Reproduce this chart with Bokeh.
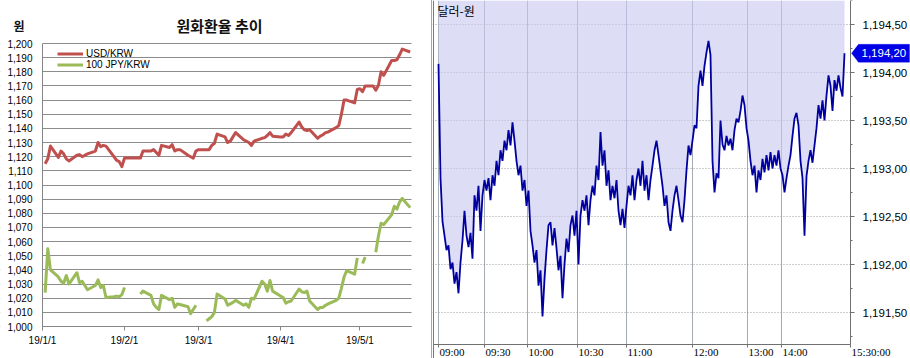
import numpy as np
import pandas as pd
from bokeh.plotting import figure
from bokeh.layouts import row
from bokeh.models import (FixedTicker, Label, LabelSet, ColumnDataSource, PolyAnnotation,
                          BoxAnnotation, Span, Spacer, Range1d, NumeralTickFormatter)
from bokeh.embed import file_html
from bokeh.resources import INLINE

# ---------------- left chart data (daily closes, Korean business days) ----------------
dates = pd.bdate_range("2019-01-02", "2019-05-20")
usd = [
    # Jan
    1115, 1118.5, 1127.5, 1119.5, 1124, 1122, 1118.5, 1117, 1121, 1121.5, 1120,
    1121, 1122, 1124, 1130, 1127, 1128, 1127.5, 1120, 1117.5, 1116.5, 1113,
    # Feb
    1119, 1119, 1119, 1119, 1119, 1124, 1124, 1125, 1123, 1121, 1128, 1126.5,
    1128.5, 1124, 1125, 1125, 1121, 1120, 1119, 1124,
    # Mar
    1125, 1125, 1125, 1128, 1129.5, 1136, 1134, 1130, 1131, 1134, 1137, 1132,
    1131, 1130, 1128, 1131, 1133, 1133.5, 1135, 1137, 1134.5,
    # Apr
    1134, 1134, 1136, 1135, 1137, 1144.5, 1141, 1139, 1138.5, 1139, 1133, 1134.5,
    1135.5, 1137, 1137.5, 1140.5, 1142, 1150, 1160, 1160, 1158, 1167.5,
    # May
    1168, 1166, 1170, 1170, 1167, 1170.5, 1180, 1177.5, 1188, 1188, 1188.5, 1192,
    1196, 1194,
]
jpy = [
    # Jan
    1024, 1055, 1040, 1035, 1032, 1030.5, 1036, 1030, 1038, 1031, 1032,
    1029, 1026, 1029, 1033, 1027.5, 1029, 1020.5, 1021, 1021.5, 1021, 1022.5,
    # Feb
    1027.5, None, None, None, 1023, 1025, 1022, 1016, 1013.5, 1012, 1022, 1019,
    1020, 1013.5, 1016, 1015.5, 1014, 1009, 1012, 1015,
    # Mar
    None, 1004, 1005.5, 1007, 1010, 1023, 1019.5, 1015, 1016, 1017, 1018.5, 1015,
    1016, 1013.5, 1020, 1019.5, 1032, 1030, 1025, 1032.5, 1025,
    # Apr
    1021.5, 1020.5, 1016.5, 1017.5, 1018, 1026.5, 1024.5, 1024, 1025, 1018, 1012,
    1013.5, 1013.5, 1015, 1016, 1018.5, 1020, 1027, 1035, 1039.5, 1037, 1048.5,
    # May
    None, 1044.5, 1049, None, 1052.5, 1064, 1073, 1072, 1079, 1085, 1083, 1088,
    1090.5, 1084,
]
month_ticks = ["2019-01-01", "2019-02-01", "2019-03-01", "2019-04-01", "2019-05-01"]
month_labels = ["19/1/1", "19/2/1", "19/3/1", "19/4/1", "19/5/1"]
krw_ticks = list(range(1000, 1201, 10))

# ---------------- right chart data (intraday USD/KRW, tick sequence) ----------------
intraday = [
    1194.09, 1192.90, 1192.45, 1192.30, 1192.15, 1192.20, 1191.95, 1192.02, 1191.80, 1191.92,
    1191.70, 1192.02, 1192.25, 1192.56, 1192.30, 1192.18, 1192.33, 1192.06, 1192.72, 1192.56,
    1192.82, 1192.35, 1192.72, 1192.88, 1192.77, 1192.90, 1192.67, 1192.93, 1192.82, 1193.08,
    1192.93, 1193.19, 1193.08, 1193.29, 1193.19, 1193.40, 1193.24, 1193.48, 1193.29, 1193.08,
    1192.93, 1193.03, 1192.77, 1192.88, 1192.61, 1192.77, 1192.35, 1192.20, 1192.02, 1192.15,
    1191.78, 1191.94, 1191.46, 1191.85, 1192.15, 1192.41, 1192.44, 1192.20, 1192.38, 1192.17,
    1191.94, 1192.09, 1191.65, 1192.00, 1192.27, 1192.13, 1192.41, 1192.51, 1192.30, 1192.56,
    1192.00, 1192.51, 1192.67, 1192.56, 1192.72, 1192.41, 1192.67, 1192.82, 1192.72, 1193.03,
    1192.88, 1193.38, 1193.03, 1193.19, 1192.82, 1192.98, 1192.67, 1192.82, 1192.69, 1192.88,
    1192.56, 1192.41, 1192.58, 1192.38, 1192.61, 1192.82, 1192.72, 1192.93, 1192.67, 1192.88,
    1193.00, 1192.82, 1193.08, 1192.77, 1192.93, 1192.67, 1192.88, 1193.03, 1193.19, 1193.29,
    1193.14, 1192.98, 1192.82, 1192.61, 1192.72, 1192.44, 1192.35, 1192.56, 1192.72, 1192.82,
    1192.67, 1192.51, 1192.44, 1192.67, 1192.98, 1193.24, 1193.14, 1193.29, 1193.45, 1193.42,
    1193.86, 1194.02, 1193.86, 1194.07, 1194.21, 1194.33, 1194.18, 1193.08, 1192.75, 1192.95,
    1192.90, 1193.50, 1193.25, 1193.19, 1193.34, 1193.24, 1193.31, 1193.19, 1193.40, 1193.52,
    1193.48, 1193.60, 1193.76, 1193.66, 1193.42, 1193.29, 1193.08, 1192.93, 1193.03, 1192.75,
    1192.98, 1192.88, 1193.10, 1192.96, 1193.14, 1192.98, 1193.17, 1193.00, 1193.14, 1193.03,
    1193.19, 1193.00, 1192.93, 1192.75, 1192.90, 1193.03, 1193.14, 1193.34, 1193.52, 1193.58,
    1193.45, 1193.08, 1192.90, 1192.30, 1192.92, 1193.08, 1193.19, 1193.06, 1193.24, 1193.42,
    1193.66, 1193.52, 1193.71, 1193.50, 1193.76, 1193.97, 1193.86, 1193.60, 1193.92, 1193.81,
    1193.97, 1193.84, 1193.75, 1194.20,
]
time_tick_pos = [0, 23, 44.5, 69.5, 94, 127, 154.5, 171.5, 206]
time_tick_labels = ["09:00", "09:30", "10:00", "10:30", "11:00", "12:00", "13:00", "14:00", "15:30:00"]
price_ticks = [1191.5, 1192.0, 1192.5, 1193.0, 1193.5, 1194.0, 1194.5]
price_minor = [1191.25, 1191.75, 1192.25, 1192.75, 1193.25, 1193.75, 1194.25, 1194.75]
price_labels = ["1,191,50", "1,192,00", "1,192,50", "1,193,00", "1,193,50", "1,194,00", "1,194,50"]
last_label = "1,194,20"

assert len(usd) == len(dates) and len(jpy) == len(dates)

NUM_FONT = "'Liberation Sans', Arial, sans-serif"
KR_FONT = "'Noto Sans CJK KR', sans-serif"
H = 358

# ======================= LEFT FIGURE =======================
W1 = 431
PA_L, PA_R, PA_T, PA_B = 42, 411, 43, 326          # plot-area edges in px
DAY_END = 139.5
day0 = pd.Timestamp("2019-01-01")
xd = np.array([(d - day0).days for d in dates], dtype=float)
tick_days = [(pd.Timestamp(t) - day0).days for t in month_ticks]

ppd = (PA_R - PA_L) / DAY_END
ppk = (PA_B - PA_T) / 200.0
p1 = figure(width=W1, height=H, output_backend="svg", toolbar_location=None, title=None,
            x_range=Range1d(-PA_L / ppd, DAY_END + (W1 - PA_R) / ppd),
            y_range=Range1d(1000 - (H - PA_B) / ppk, 1200 + PA_T / ppk),
            min_border=0)
p1.outline_line_color = None
p1.background_fill_color = "white"
p1.border_fill_color = "white"

p1.xgrid.grid_line_color = None
p1.ygrid.ticker = FixedTicker(ticks=krw_ticks)
p1.ygrid.grid_line_color = "#8C8C8C"
for edge in (dict(right=0), dict(left=DAY_END)):
    p1.add_layout(BoxAnnotation(fill_color="white", fill_alpha=1, line_alpha=0,
                                level="underlay", **edge))

p1.line(xd, np.array(usd, dtype=float), color="#C0504D", line_width=3, line_join="round",
        legend_label="USD/KRW")
p1.line(xd, np.array([np.nan if v is None else v for v in jpy], dtype=float), color="#9BBB59",
        line_width=3, line_join="round", legend_label="100 JPY/KRW")

ya1 = p1.yaxis[0]
ya1.fixed_location = 0
ya1.bounds = (1000, 1200)
ya1.ticker = FixedTicker(ticks=krw_ticks)
ya1.formatter = NumeralTickFormatter(format="0,0")
ya1.major_tick_line_color = None
ya1.minor_tick_line_color = None
ya1.axis_line_color = "#868686"
ya1.major_label_standoff = 4
ya1.major_label_text_font = NUM_FONT
ya1.major_label_text_font_size = "10px"
ya1.major_label_text_color = "black"

xa1 = p1.xaxis[0]
xa1.fixed_location = 1000
xa1.bounds = (0, DAY_END)
xa1.ticker = FixedTicker(ticks=tick_days)
xa1.major_label_overrides = {d: lab for d, lab in zip(tick_days, month_labels)}
xa1.major_tick_out = 4
xa1.major_tick_in = 0
xa1.minor_tick_line_color = None
xa1.major_tick_line_color = "#868686"
xa1.axis_line_color = "#868686"
xa1.major_label_standoff = 4
xa1.major_label_text_font = NUM_FONT
xa1.major_label_text_font_size = "10px"
xa1.major_label_text_color = "black"

lg = p1.legend[0]
lg.location = (57, 288)
lg.background_fill_alpha = 0
lg.border_line_color = None
lg.padding = 0
lg.margin = 0
lg.spacing = 0
lg.glyph_width = 26
lg.glyph_height = 11
lg.label_height = 11
lg.label_standoff = 3
lg.label_text_font = NUM_FONT
lg.label_text_font_size = "10px"
lg.label_text_color = "black"

p1.add_layout(Label(x=219, y=H - 25, x_units="screen", y_units="screen", text="원화환율 추이",
                    text_align="center", text_baseline="middle", text_font=KR_FONT,
                    text_font_size="15px", text_font_style="bold", text_color="#111111"))
p1.add_layout(Label(x=13, y=H - 25, x_units="screen", y_units="screen", text="원",
                    text_align="left", text_baseline="middle", text_font=KR_FONT,
                    text_font_size="12px", text_font_style="bold", text_color="#111111"))

# ======================= RIGHT FIGURE =======================
W2 = 478
N = len(intraday)
idx = np.arange(N)
PX_IDX = 2.0            # px per tick-sequence step
PX_UNIT = 96.0          # px per 1 KRW
X0, X1 = -2.5, 206      # plot-area bounds in sequence units
y_hi = 1194.75
y_lo = y_hi - 344 / PX_UNIT
AX_L = 1                # plot-area left edge inside the canvas, px

p2 = figure(width=W2, height=H, output_backend="svg", toolbar_location=None, title=None,
            x_range=Range1d(X0 - AX_L / PX_IDX, X0 + (W2 - AX_L) / PX_IDX),
            y_range=Range1d(y_hi - H / PX_UNIT, y_hi),
            y_axis_location="right", min_border=0)
p2.background_fill_color = "white"
p2.border_fill_color = "white"
p2.outline_line_color = None

p2.xgrid.ticker = FixedTicker(ticks=time_tick_pos)
p2.xgrid.grid_line_color = "#A4ABB4"
p2.ygrid.ticker = FixedTicker(ticks=price_ticks)
p2.ygrid.grid_line_color = "#9A9A9A"
p2.ygrid.grid_line_dash = "1 2"
for edge in (dict(left=X1), dict(right=X0), dict(top=y_lo)):
    p2.add_layout(BoxAnnotation(fill_color="white", fill_alpha=1, line_alpha=0,
                                level="underlay", **edge))

p2.varea(x=idx, y1=np.array(intraday), y2=np.full(N, y_hi), fill_color="#C8C8F0", fill_alpha=0.62)
p2.line(idx, np.array(intraday), color="#0000A0", line_width=1.8)

p2.add_layout(Span(location=X0, dimension="height", line_color="#7A7A7A", line_width=1))

ya = p2.yaxis[0]
ya.fixed_location = X1
ya.bounds = (y_lo, y_hi)
ya.ticker = FixedTicker(ticks=price_ticks, minor_ticks=price_minor)
ya.major_label_overrides = {t: lab for t, lab in zip(price_ticks, price_labels)}
ya.major_tick_out = 4
ya.major_tick_in = 0
ya.minor_tick_out = 2
ya.minor_tick_in = 0
ya.axis_line_color = "#707070"
ya.major_tick_line_color = "#707070"
ya.minor_tick_line_color = "#707070"
ya.major_label_standoff = 8
ya.major_label_text_font = NUM_FONT
ya.major_label_text_font_size = "11.5px"
ya.major_label_text_color = "black"

xa = p2.xaxis[0]
xa.fixed_location = y_lo
xa.bounds = (X0, X1)
xa.ticker = FixedTicker(ticks=time_tick_pos)
xa.major_tick_out = 3
xa.major_tick_in = 0
xa.minor_tick_line_color = None
xa.axis_line_color = "#707070"
xa.major_tick_line_color = "#707070"
xa.major_label_text_font_size = "0px"
xa.major_label_text_alpha = 0

src = ColumnDataSource(dict(x=time_tick_pos, y=[y_lo] * len(time_tick_pos), text=time_tick_labels))
p2.add_layout(LabelSet(x="x", y="y", text="text", source=src, x_offset=1, y_offset=-1,
                       text_align="left", text_baseline="top", text_font=NUM_FONT,
                       text_font_size="11px", text_color="black"))

p2.add_layout(Label(x=5, y=H - 1, x_units="screen", y_units="screen", text="달러-원",
                    text_align="left", text_baseline="top", text_font=KR_FONT,
                    text_font_size="12px", text_color="black"))

# last price marker on the price axis
last = intraday[-1]
hh = 9 / PX_UNIT
p2.add_layout(PolyAnnotation(
    xs=[X1 + 1 / PX_IDX, X1 + 8 / PX_IDX, X1 + 59 / PX_IDX, X1 + 59 / PX_IDX, X1 + 8 / PX_IDX],
    ys=[last, last + hh, last + hh, last - hh, last - hh],
    fill_color="#0000E6", fill_alpha=1, line_color="#0000E6"))
p2.add_layout(Label(x=X1 + 11 / PX_IDX, y=last, text=last_label,
                    text_align="left", text_baseline="middle", text_font=NUM_FONT,
                    text_font_size="11.5px", text_color="white"))

sep = Spacer(width=1, height=H, styles={"background-color": "#A6A6A6"})
layout = row(p1, sep, p2, spacing=0)

open("out.html", "w").write(file_html(layout, INLINE))
